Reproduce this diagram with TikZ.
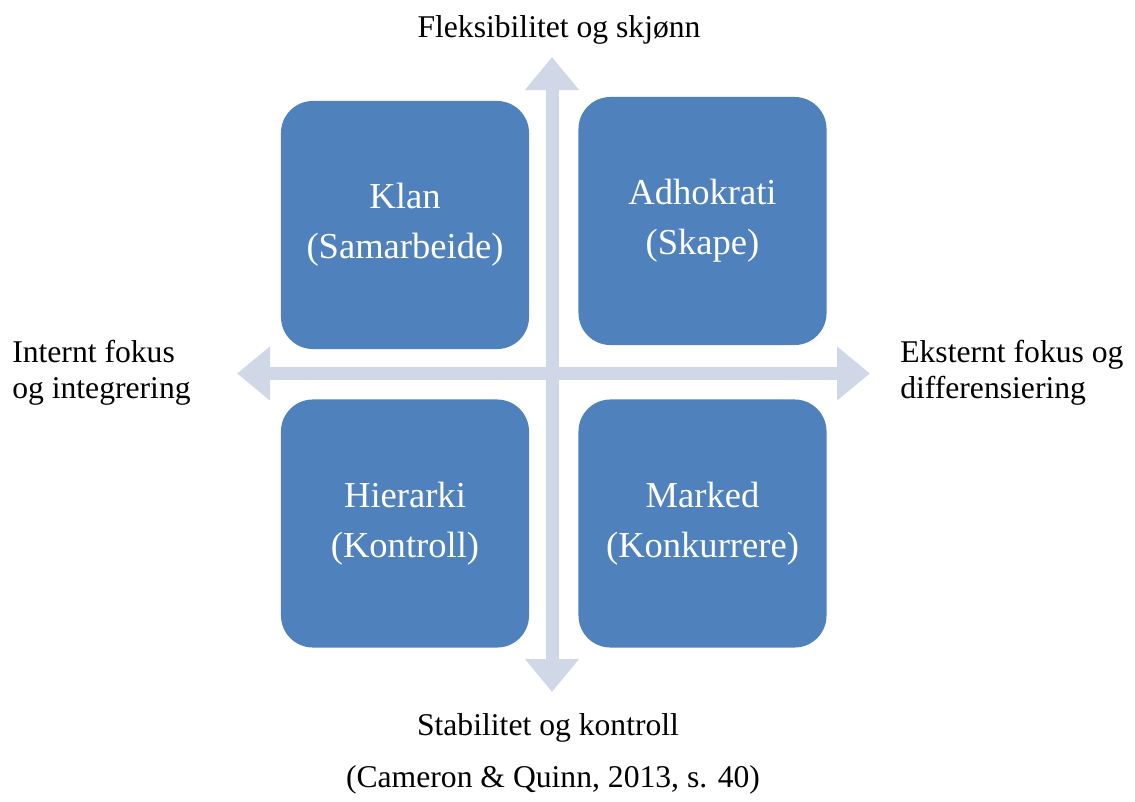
\documentclass[tikz,border=0pt]{standalone}
\usepackage{fontspec}
\setmainfont{Liberation Serif}
\usetikzlibrary{arrows.meta}
\definecolor{boxblue}{HTML}{4F81BD}
\definecolor{axisgray}{HTML}{D0D8E8}
\begin{document}
\begin{tikzpicture}[x=0.025cm,y=-0.025cm,
    quadrant/.style={fill=boxblue,rounded corners=0.8cm,minimum width=6.2cm,minimum height=6.2cm,
        text=white,align=center,font=\fontsize{26}{35.6}\selectfont},
    axislabel/.style={font=\fontsize{22.5}{25.6}\selectfont,inner sep=0pt},
    axis/.style={axisgray,line width=0.325cm,{Triangle[width=1.3cm,length=0.825cm]}-{Triangle[width=1.3cm,length=0.825cm]}}]
                \useasboundingbox (0,0) rectangle (1135,801);
                \coordinate (top) at (552,57);
                \coordinate (bottom) at (552,692);
                \coordinate (left) at (237,373.5);
                \coordinate (right) at (870,373.5);
                \draw[axis] (bottom) -- (top);
                \draw[axis] (left) -- (right);
                \node[quadrant] (klan) at (405,225) {Klan\\(Samarbeide)};
                \node[quadrant] (adhokrati) at (702.5,221) {Adhokrati\\(Skape)};
                \node[quadrant] (hierarki) at (405,523.5) {Hierarki\\(Kontroll)};
                \node[quadrant] (marked) at (702.5,523.5) {Marked\\(Konkurrere)};
                \node[axislabel] (fleks) at (559,30) {Fleksibilitet og skjønn};
                \node[axislabel] (stab) at (548,728) {Stabilitet og kontroll};
                \node[axislabel,anchor=west,align=left] (intern) at (12,373) {Internt fokus\\og integrering};
                \node[axislabel,anchor=west,align=left] (ekstern) at (900,373) {Eksternt fokus og\\differensiering};
                \node[axislabel] (kilde) at (553,780) {(Cameron \& Quinn, 2013, s. 40)};
            \end{tikzpicture}
\end{document}
